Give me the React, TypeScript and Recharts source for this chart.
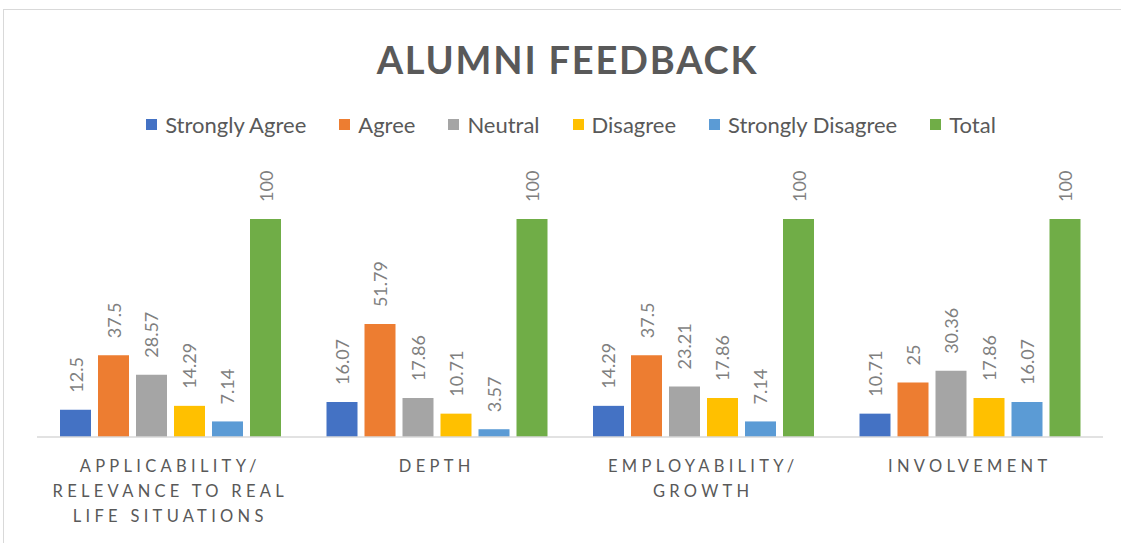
import React from 'react';
import { BarChart, Bar, XAxis, YAxis, LabelList } from 'recharts';

const categories = [
  'APPLICABILITY/ RELEVANCE TO REAL LIFE SITUATIONS',
  'DEPTH',
  'EMPLOYABILITY/ GROWTH',
  'INVOLVEMENT',
];

const stronglyAgree = [12.5, 16.07, 14.29, 10.71];
const agree = [37.5, 51.79, 37.5, 25];
const neutral = [28.57, 17.86, 23.21, 30.36];
const disagree = [14.29, 10.71, 17.86, 17.86];
const stronglyDisagree = [7.14, 3.57, 7.14, 16.07];
const total = [100, 100, 100, 100];

const SERIES = [
  { key: 'stronglyAgree', name: 'Strongly Agree', color: '#4472C4', values: stronglyAgree },
  { key: 'agree', name: 'Agree', color: '#ED7D31', values: agree },
  { key: 'neutral', name: 'Neutral', color: '#A5A5A5', values: neutral },
  { key: 'disagree', name: 'Disagree', color: '#FFC000', values: disagree },
  { key: 'stronglyDisagree', name: 'Strongly Disagree', color: '#5B9BD5', values: stronglyDisagree },
  { key: 'total', name: 'Total', color: '#70AD47', values: total },
];

const data = categories.map((category, i) => {
  const row: Record<string, any> = { category };
  SERIES.forEach((s) => (row[s.key] = s.values[i]));
  return row;
});

const FONT = 'Lato, "Open Sans", sans-serif';
const TEXT_COLOR = '#595959';

// crude word wrap, like excel does for long category names
const wrap = (text: string, max = 17) => {
  const lines: string[] = [];
  let cur = '';
  text.split(' ').forEach((w) => {
    const next = cur ? cur + ' ' + w : w;
    if (next.length > max && cur) {
      lines.push(cur);
      cur = w;
    } else {
      cur = next;
    }
  });
  if (cur) lines.push(cur);
  return lines;
};

const CategoryTick = ({ x, y, payload }: any) => {
  const lines = wrap(payload.value);
  return (
    <text
      x={x}
      y={y}
      textAnchor="middle"
      fill={TEXT_COLOR}
      fontSize={16.5}
      fontFamily={FONT}
      letterSpacing={4.3}
    >
      {lines.map((line, i) => (
        <tspan key={i} x={x} dy={i === 0 ? 27 : 25}>
          {line}
        </tspan>
      ))}
    </text>
  );
};

const ValueLabel = ({ x, y, width, value }: any) => {
  const cx = x + width / 2;
  const cy = y - 17;
  return (
    <text
      x={cx}
      y={cy}
      transform={`rotate(-90 ${cx} ${cy})`}
      textAnchor="start"
      dominantBaseline="central"
      fill="#7F7F7F"
      fontSize={18}
      fontFamily={FONT}
    >
      {value}
    </text>
  );
};

export default function App() {
  return (
    <div
      style={{
        position: 'absolute',
        left: 0,
        top: 0,
        width: 1121,
        height: 543,
        overflow: 'hidden',
        background: '#fff',
        fontFamily: FONT,
      }}
    >
      <div
        style={{
          position: 'absolute',
          left: 3,
          top: 9,
          width: 1300,
          height: 700,
          border: '1px solid #D9D9D9',
        }}
      />
      <div
        style={{
          position: 'absolute',
          top: 36,
          left: 0,
          width: 1135,
          textAlign: 'center',
          fontSize: 38,
          fontWeight: 700,
          letterSpacing: 1.8,
          color: TEXT_COLOR,
        }}
      >
        ALUMNI FEEDBACK
      </div>

      {/* Legend */}
      <div
        style={{
          position: 'absolute',
          top: 111,
          left: 0,
          width: 1142,
          display: 'flex',
          justifyContent: 'center',
          gap: 33,
          fontSize: 22,
          color: TEXT_COLOR,
        }}
      >
        {SERIES.map((s) => (
          <div key={s.key} style={{ display: 'flex', alignItems: 'center', gap: 8 }}>
            <div style={{ width: 11, height: 11, background: s.color }} />
            <span>{s.name}</span>
          </div>
        ))}
      </div>

      <div style={{ position: 'absolute', left: 0, top: 0 }}>
        <BarChart
          width={1121}
          height={543}
          data={data}
          margin={{ top: 219, right: 18, bottom: 26, left: 37 }}
          barSize={31}
          barGap={7}
        >
          <YAxis hide domain={[0, 100]} />
          <XAxis
            dataKey="category"
            height={80}
            tickLine={false}
            axisLine={{ stroke: '#D9D9D9', strokeWidth: 1.5 }}
            tick={<CategoryTick />}
            interval={0}
          />
          {SERIES.map((s) => (
            <Bar key={s.key} dataKey={s.key} name={s.name} fill={s.color} isAnimationActive={false}>
              <LabelList dataKey={s.key} content={<ValueLabel />} />
            </Bar>
          ))}
        </BarChart>
      </div>
    </div>
  );
}
